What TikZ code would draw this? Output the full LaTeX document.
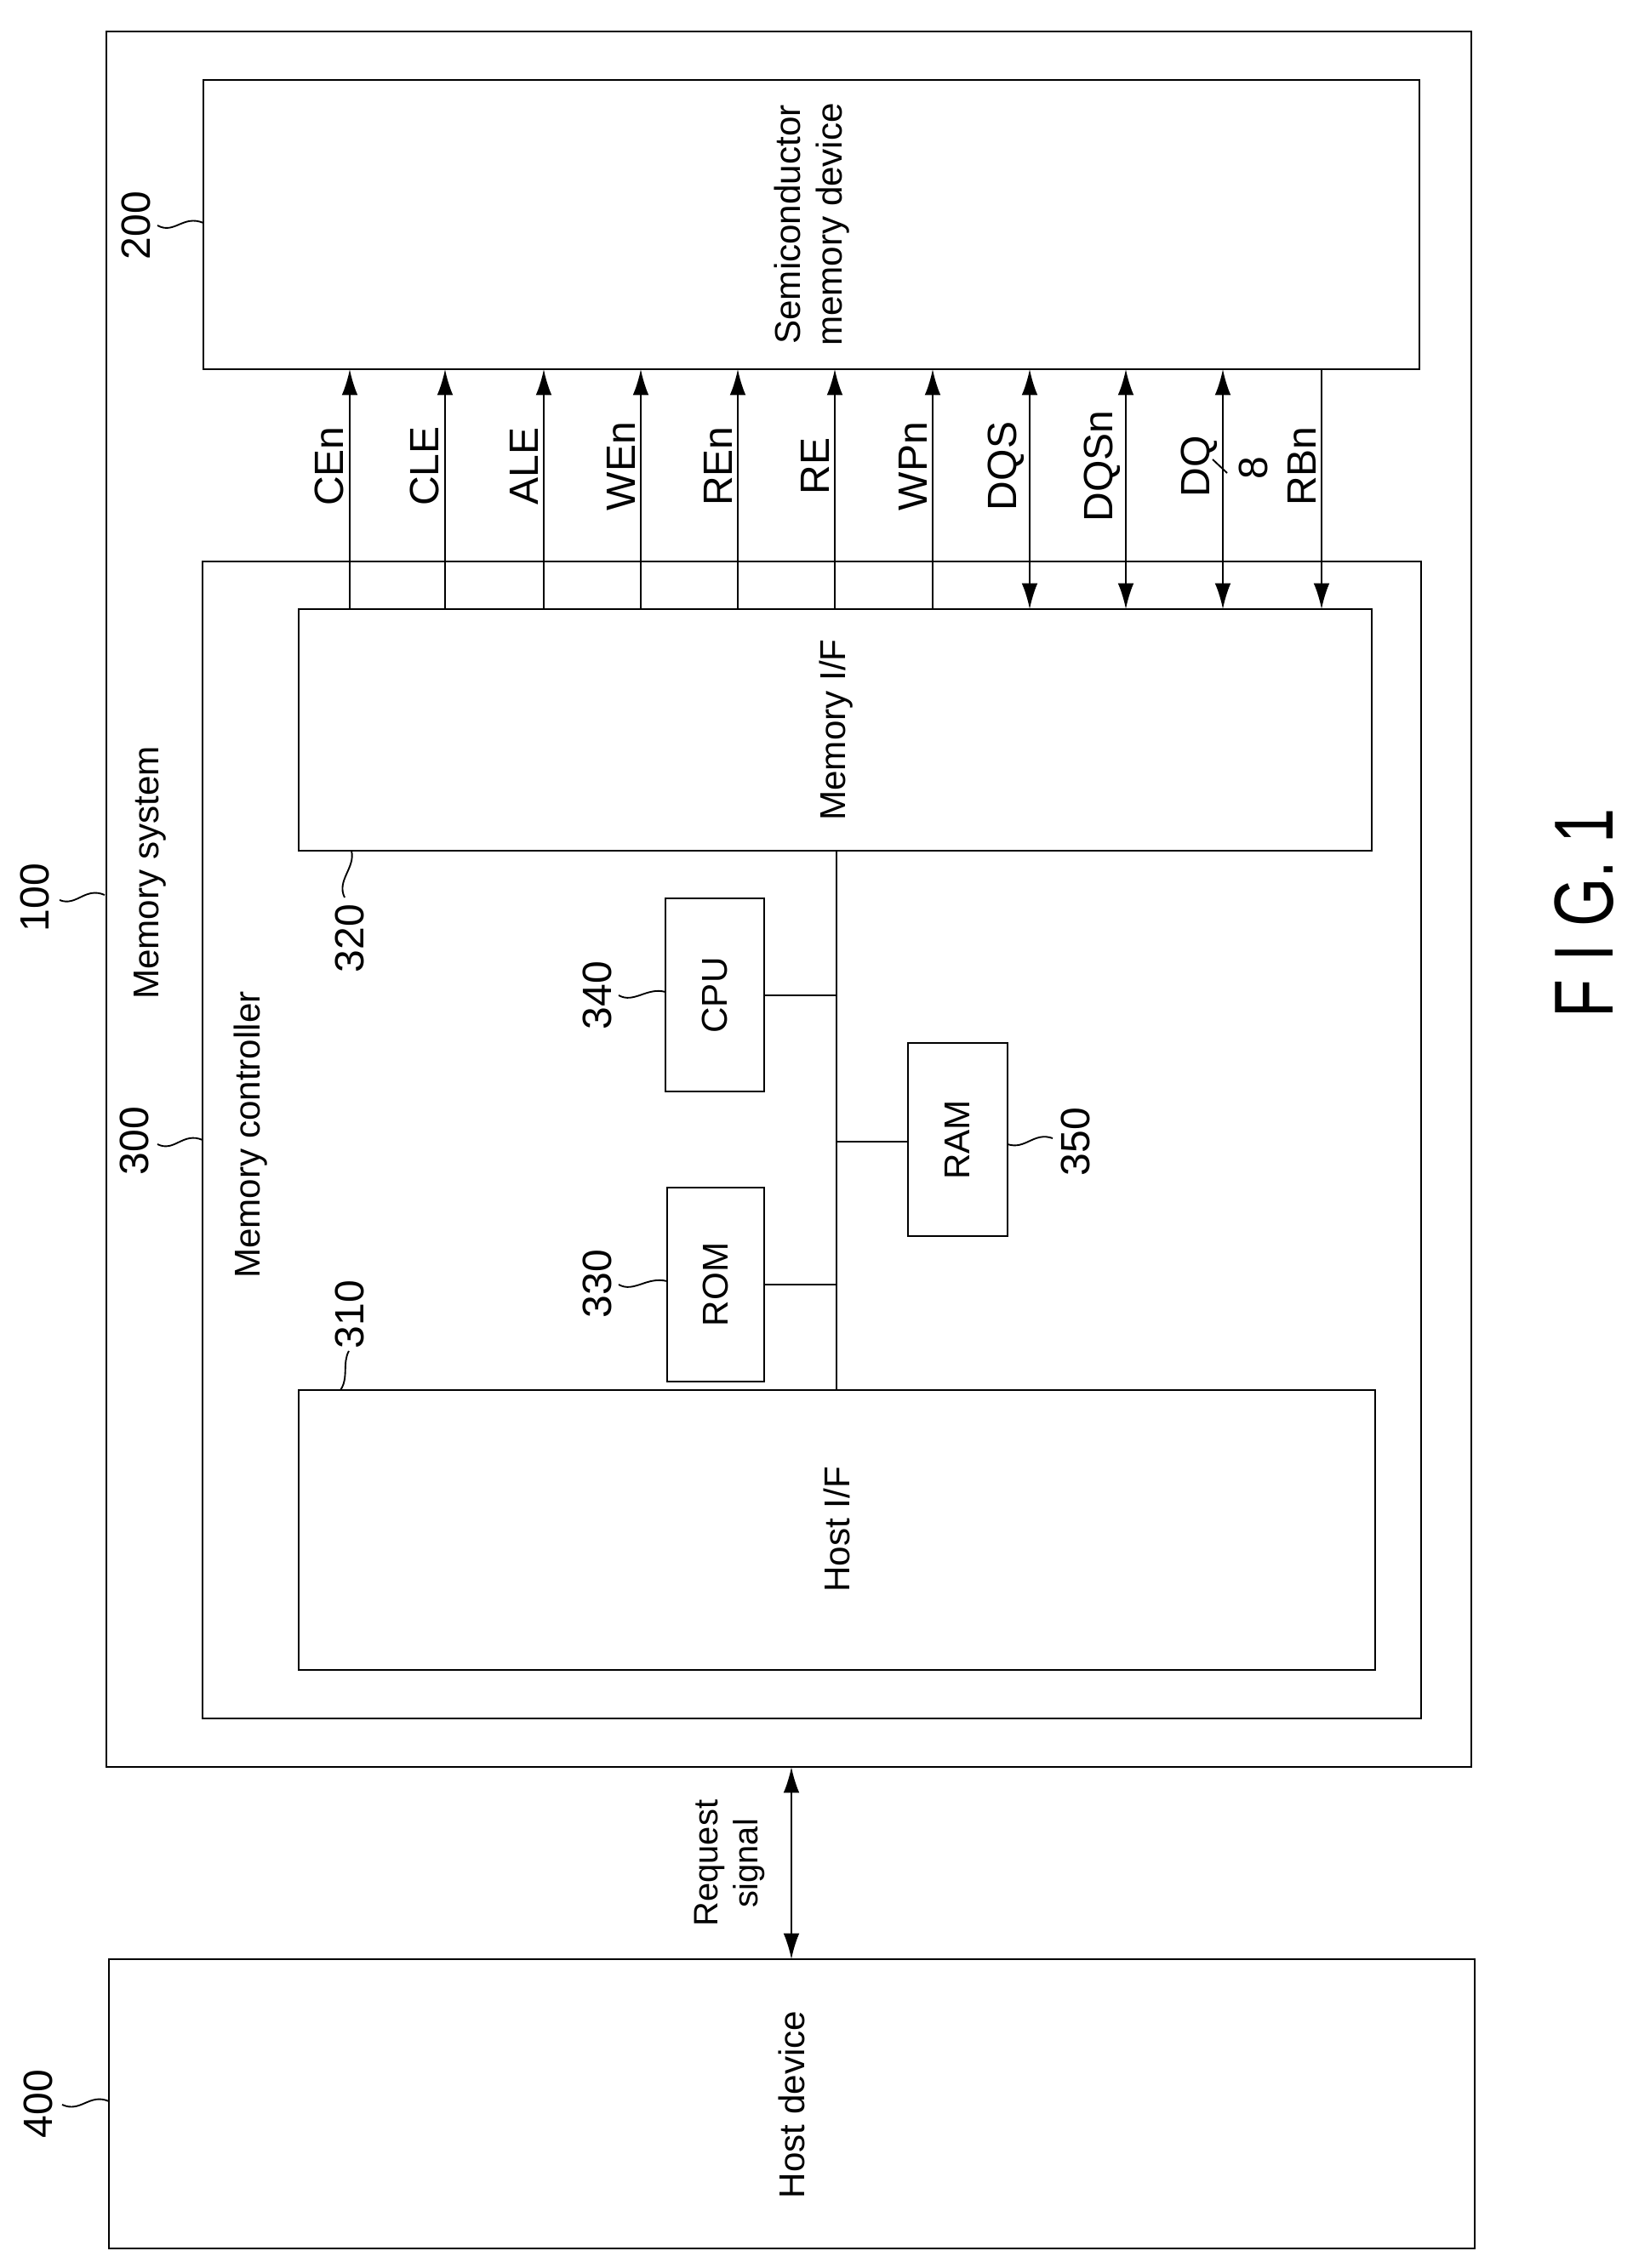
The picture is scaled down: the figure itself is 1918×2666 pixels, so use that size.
\documentclass[tikz,border=0pt]{standalone}
\usepackage{fontspec}
\setmainfont{Liberation Sans}
\usetikzlibrary{arrows.meta}
\begin{document}
\begin{tikzpicture}[x=0.03cm,y=-0.03cm,
  box/.style={draw,line width=2pt},
  lab/.style={rotate=90,font=\fontsize{36}{42}\selectfont},
  sig/.style={rotate=90,font=\fontsize{41}{46}\selectfont,anchor=south,inner sep=4pt},
  num/.style={rotate=90,font=\fontsize{41}{46}\selectfont,inner sep=0pt},
  ln/.style={line width=1.8pt},
  ar/.style={ln,-{Latex[length=26pt,width=16pt]}},
  dar/.style={ln,{Latex[length=26pt,width=16pt]}-{Latex[length=26pt,width=16pt]}},
  sq/.style={line width=1.6pt}]
\useasboundingbox (0,0) rectangle (1918,2666);
% boxes
\draw[box] (125,37) rectangle (1729,2077);
\draw[box] (239,94) rectangle (1668,434);
\draw[box] (238,660) rectangle (1670,2020);
\draw[box] (351,716) rectangle (1612,1000);
\draw[box] (351,1634) rectangle (1616,1963);
\draw[box] (782,1056) rectangle (898,1283);
\draw[box] (784,1396) rectangle (898,1624);
\draw[box] (1067,1226) rectangle (1184,1453);
\draw[box] (128,2303) rectangle (1733,2643);
% texts
\node[lab] (t200) at (955,264) {\begin{tabular}{@{}c@{}}Semiconductor\\memory device\end{tabular}};
\node[lab] (t320) at (983,858) {Memory I/F};
\node[lab] (t310) at (983,1798) {Host I/F};
\node[lab] (tcpu) at (840,1170) {CPU};
\node[lab] (trom) at (841,1510) {ROM};
\node[lab] (tram) at (1125,1340) {RAM};
\node[lab] (t400) at (930,2474) {Host device};
\node[lab,anchor=west,inner sep=0pt] (tms) at (176,1175) {Memory system};
\node[lab,inner sep=0pt] (tmc) at (295,1334) {Memory controller};
\node[lab,font=\fontsize{34}{40}\selectfont] (req) at (858,2190) {\begin{tabular}{@{}c@{}}Request\\signal\end{tabular}};
\node[rotate=90,font=\fontsize{84}{90}\selectfont,inner sep=0pt] (fig) at (1862,1073) {\scalebox{0.75}[1]{F I G. 1}};
% bus
\coordinate (b1) at (983,1000);
\coordinate (b2) at (983,1634);
\draw[ln] (b1) -- (b2);
\draw[ln] (898,1170) -- (983,1170);
\draw[ln] (898,1510) -- (983,1510);
\draw[ln] (983,1342) -- (1067,1342);
% request signal
\draw[dar] (930,2077) -- (930,2303);
% signals
\foreach \x/\t in {411/CEn,523/CLE,639/ALE,753/WEn,867/REn,981/RE,1096/WPn}{
  \draw[ar] (\x,716) -- (\x,434);
  \node[sig] at (\x-2,548) {\t};}
\foreach \x/\t in {1210/DQS,1323/DQSn,1437/DQ}{
  \draw[dar] (\x,716) -- (\x,434);
  \node[sig] at (\x-2,548) {\t};}
\draw[ar] (1553,434) -- (1553,716);
\node[sig] at (1551,548) {RBn};
\draw[sq] (1425,540) -- (1442,556);
\node[num] at (1473,550) {8};
% reference numbers with squiggles
\node[num] (n100) at (41,1055) {100};
\draw[sq] (70,1058) .. controls (90,1066) and (100,1042) .. (123,1052);
\node[num] (n200) at (160,265) {200};
\draw[sq] (185,265) .. controls (205,276) and (215,252) .. (239,262);
\node[num] (n300) at (158,1341) {300};
\draw[sq] (185,1345) .. controls (205,1355) and (215,1330) .. (238,1340);
\node[num] (n320) at (411,1103) {320};
\draw[sq] (405,1055) .. controls (395,1035) and (418,1020) .. (413,1000);
\node[num] (n340) at (702,1170) {340};
\draw[sq] (727,1170) .. controls (745,1180) and (760,1160) .. (782,1166);
\node[num] (n330) at (702,1509) {330};
\draw[sq] (727,1510) .. controls (745,1520) and (760,1500) .. (784,1506);
\node[num] (n350) at (1264,1342) {350};
\draw[sq] (1184,1345) .. controls (1205,1352) and (1215,1330) .. (1237,1338);
\node[num] (n310) at (411,1545) {310};
\draw[sq] (410,1588) .. controls (402,1602) and (410,1620) .. (400,1634);
\node[num] (n400) at (45,2473) {400};
\draw[sq] (73,2474) .. controls (95,2484) and (105,2460) .. (128,2470);
\end{tikzpicture}
\end{document}
